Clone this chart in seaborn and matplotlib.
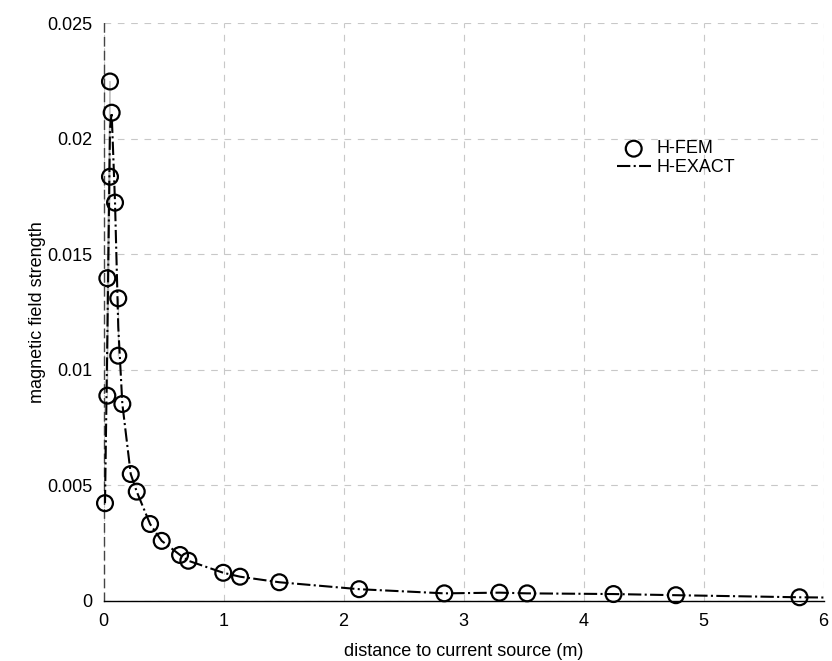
import matplotlib
matplotlib.use("Agg")
import matplotlib.pyplot as plt
import seaborn as sns

# distance to source (m) and field strength
fem_x = [0.0125, 0.032, 0.032, 0.054, 0.054, 0.068, 0.096, 0.123, 0.123, 0.157,
         0.227, 0.277, 0.388, 0.485, 0.638, 0.707, 0.998, 1.138, 1.465, 2.13,
         2.84, 3.30, 3.53, 4.25, 4.77, 5.80]
fem_y = [0.00423, 0.00888, 0.01396, 0.01835, 0.02247, 0.02112, 0.01723, 0.01309,
         0.01061, 0.00852, 0.00549, 0.00473, 0.00333, 0.00260, 0.00199, 0.00174,
         0.00122, 0.00105, 0.00081, 0.00051, 0.00033, 0.00036, 0.00033, 0.00030,
         0.00025, 0.00016]

exact_x = fem_x + [6.0]
exact_y = fem_y + [0.00015]

x_ticks = [0, 1, 2, 3, 4, 5, 6]
y_ticks = [0, 0.005, 0.01, 0.015, 0.02, 0.025]
y_ticklabels = ["0", "0.005", "0.01", "0.015", "0.02", "0.025"]

sns.set_style("white")
plt.rcParams["font.family"] = ["Liberation Sans", "DejaVu Sans"]
plt.rcParams["text.color"] = "black"
plt.rcParams["axes.labelcolor"] = "black"

fig = plt.figure(figsize=(8.32, 6.61), dpi=100)
ax = fig.add_axes([0.1244, 0.0908, 0.8654, 0.8744])

sns.lineplot(x=exact_x, y=exact_y, sort=False, color="black", linestyle="-.",
             linewidth=1.5, label="H-EXACT", ax=ax, zorder=3)
sns.scatterplot(x=fem_x, y=fem_y, marker="o", s=130, facecolors="none",
                edgecolor="black", linewidth=1.6, label="H-FEM", ax=ax,
                zorder=4, clip_on=False)

ax.set_xlim(0, 6)
ax.set_ylim(0, 0.025)
ax.set_xticks(x_ticks)
ax.set_yticks(y_ticks)
ax.set_yticklabels(y_ticklabels)
ax.tick_params(direction="in", length=4, labelsize=13, colors="black")
ax.tick_params(axis="x", pad=9)
ax.tick_params(axis="y", pad=8)

ax.grid(True, linestyle=(0, (6, 6)), color="#c8c8c8", linewidth=0.8)
for s in ["top", "right"]:
    ax.spines[s].set_visible(False)
ax.spines["bottom"].set_color("black")
ax.spines["bottom"].set_linewidth(1.0)
ax.spines["left"].set_color("#444444")
ax.spines["left"].set_linestyle((0, (6, 4)))
ax.spines["left"].set_linewidth(1.0)

ax.set_xlabel("distance to current source (m)", fontsize=13, labelpad=9)
ax.set_ylabel("magnetic field strength", fontsize=13, labelpad=1)

handles, labels = ax.get_legend_handles_labels()
order = [labels.index("H-FEM"), labels.index("H-EXACT")]
ax.legend([handles[i] for i in order], [labels[i] for i in order],
          loc="upper left", bbox_to_anchor=(0.69, 0.825), frameon=False,
          fontsize=13, handlelength=1.9, handletextpad=0.3, labelspacing=0.1)

fig.savefig("out.png", dpi=100)
